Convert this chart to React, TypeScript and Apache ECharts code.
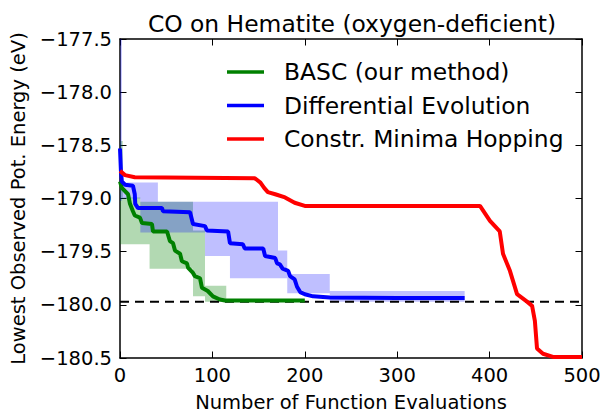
import React, { useEffect, useRef } from "react";
import * as echarts from "echarts";

const FONT = "DejaVu Sans";

// Lines (x = function evaluations, y = energy in eV)
const greenX = [0, 2, 8.7, 10.8, 14, 16, 21.6, 23.8, 34.6, 35.7, 50.9, 54, 57.4, 59.5, 65, 67, 72.5, 73.6, 79, 81, 86.6, 88.7, 95, 100.6, 108, 113.6, 200];
const greenY = [-178.84, -178.9, -178.96, -179.05, -179.12, -179.16, -179.18, -179.23, -179.24, -179.31, -179.31, -179.4, -179.42, -179.49, -179.52, -179.59, -179.61, -179.65, -179.7, -179.73, -179.75, -179.84, -179.87, -179.92, -179.95, -179.96, -179.96];

const blueX = [0, 1, 2, 5.4, 14, 16, 16.5, 19.5, 45.5, 46.5, 75.8, 79, 92, 94, 117, 119, 133, 135, 155, 157, 168, 170, 173, 176, 182, 184, 189, 191.6, 195, 200, 209, 227, 300, 373];
const blueY = [-178.53, -178.74, -178.84, -178.87, -178.88, -178.96, -179.05, -179.09, -179.09, -179.12, -179.13, -179.24, -179.26, -179.3, -179.31, -179.42, -179.43, -179.47, -179.47, -179.54, -179.56, -179.61, -179.62, -179.66, -179.68, -179.73, -179.76, -179.83, -179.88, -179.9, -179.92, -179.93, -179.935, -179.935];

const redX = [0, 5.4, 16, 146, 152, 156, 160, 168, 178.6, 189, 200, 389.6, 400.4, 411, 414.5, 422, 429.7, 440.5, 446, 449, 451.3, 457.8, 468.6, 500];
const redY = [-178.74, -178.78, -178.8, -178.81, -178.85, -178.9, -178.94, -178.96, -178.99, -179.04, -179.07, -179.07, -179.21, -179.31, -179.52, -179.68, -179.9, -179.97, -180.01, -180.15, -180.41, -180.46, -180.49, -180.49];

// Spread bands (step segments): edges, upper and lower per segment
const greenBandEdges = [0, 3, 22, 32, 79, 92, 115];
const greenBandUpper = [-178.46, -178.99, -179.03, -179.03, -179.3, -179.82];
const greenBandLower = [-179.43, -179.43, -179.43, -179.66, -179.92, -179.97];

const blueBandEdges = [0, 2, 22, 41, 92, 119, 171, 181, 227, 373];
const blueBandUpper = [-177.5, -178.85, -178.85, -179.03, -179.03, -179.03, -179.49, -179.71, -179.87];
const blueBandLower = [-179.02, -179.0, -179.32, -179.32, -179.54, -179.75, -179.75, -179.89, -179.97];

const refLevel = -179.97;
const refX = [0, 500];

const legendNames = ["BASC (our method)", "Differential Evolution", "Constr. Minima Hopping"];
const titleText = "CO on Hematite (oxygen-deficient)";
const xLabel = "Number of Function Evaluations";
const yLabel = "Lowest Observed Pot. Energy (eV)";

const zip = (xs: number[], ys: number[]) => xs.map((x, i) => [x, ys[i]]);

function bandSeries(edges: number[], upper: number[], lower: number[], fill: string) {
  return {
    type: "custom",
    silent: true,
    z: 1,
    clip: true,
    data: [[edges[0], upper[0]]],
    renderItem: (params: any, api: any) => {
      const top: number[][] = [];
      const bot: number[][] = [];
      for (let i = 0; i < upper.length; i++) {
        top.push(api.coord([edges[i], upper[i]]), api.coord([edges[i + 1], upper[i]]));
        bot.push(api.coord([edges[i], lower[i]]), api.coord([edges[i + 1], lower[i]]));
      }
      return {
        type: "polygon",
        shape: { points: top.concat(bot.reverse()) },
        style: { fill },
      };
    },
  };
}

function lineSeries(name: string, xs: number[], ys: number[], color: string) {
  return {
    type: "line",
    name,
    data: zip(xs, ys),
    symbol: "none",
    z: 3,
    lineStyle: { color, width: 4 },
    itemStyle: { color },
  };
}

const fmtY = (v: number) => v.toFixed(1).replace("-", "\u2212");

export default function App() {
  const ref = useRef<HTMLDivElement>(null);
  useEffect(() => {
    if (!ref.current) return;
    const chart = echarts.init(ref.current, undefined, { renderer: "svg" });
    const axisCommon = {
      axisLine: { show: true, onZero: false, lineStyle: { color: "#000", width: 1.5 } },
      axisTick: { show: true, inside: true, length: 6.5, lineStyle: { color: "#000", width: 1 } },
      splitLine: { show: false },
    };
    chart.setOption({
      animation: false,
      backgroundColor: "#fff",
      title: {
        text: titleText,
        left: 347,
        textAlign: "center",
        top: 7,
        textStyle: { fontFamily: FONT, fontSize: 23.4, fontWeight: "normal", color: "#000" },
      },
      legend: {
        data: legendNames,
        orient: "vertical",
        left: 222,
        top: 54,
        icon: "rect",
        itemWidth: 37,
        itemHeight: 3.5,
        itemGap: 7.5,
        textStyle: { fontFamily: FONT, fontSize: 23.4, color: "#000", lineHeight: 26, padding: [0, 0, 0, 15] },
      },
      grid: { left: 120, right: 20, top: 39, bottom: 55, containLabel: false, outerBoundsMode: "none" },
      xAxis: [
        {
          type: "value",
          min: 0,
          max: 500,
          interval: 100,
          position: "bottom",
          ...axisCommon,
          axisLabel: { fontFamily: FONT, fontSize: 19.5, color: "#000", margin: 7, formatter: (v: number) => String(v) },
          name: xLabel,
          nameLocation: "middle",
          nameGap: 34,
          nameTextStyle: { fontFamily: FONT, fontSize: 19.5, color: "#000" },
        },
        {
          type: "value",
          min: 0,
          max: 500,
          interval: 100,
          position: "top",
          ...axisCommon,
          axisLabel: { show: false },
        },
      ],
      yAxis: [
        {
          type: "value",
          min: -180.5,
          max: -177.5,
          interval: 0.5,
          position: "left",
          ...axisCommon,
          axisLabel: { fontFamily: FONT, fontSize: 19.5, color: "#000", margin: 8, formatter: fmtY },
          name: yLabel,
          nameLocation: "middle",
          nameGap: 89,
          nameTextStyle: { fontFamily: FONT, fontSize: 19.5, color: "#000" },
        },
        {
          type: "value",
          min: -180.5,
          max: -177.5,
          interval: 0.5,
          position: "right",
          ...axisCommon,
          axisLabel: { show: false },
        },
      ],
      series: [
        bandSeries(greenBandEdges, greenBandUpper, greenBandLower, "rgba(0,128,0,0.3)"),
        bandSeries(blueBandEdges, blueBandUpper, blueBandLower, "rgba(0,0,255,0.25)"),
        {
          type: "line",
          name: "ref",
          data: refX.map((x) => [x, refLevel]),
          symbol: "none",
          z: 2,
          silent: true,
          lineStyle: { color: "#000", width: 2, type: [9, 6] },
        },
        lineSeries(legendNames[0], greenX, greenY, "#008000"),
        lineSeries(legendNames[1], blueX, blueY, "#0000ff"),
        lineSeries(legendNames[2], redX, redY, "#ff0000"),
      ],
    });
    return () => chart.dispose();
  }, []);
  return <div ref={ref} style={{ width: 602, height: 413, position: "absolute", left: 0, top: 0 }} />;
}
